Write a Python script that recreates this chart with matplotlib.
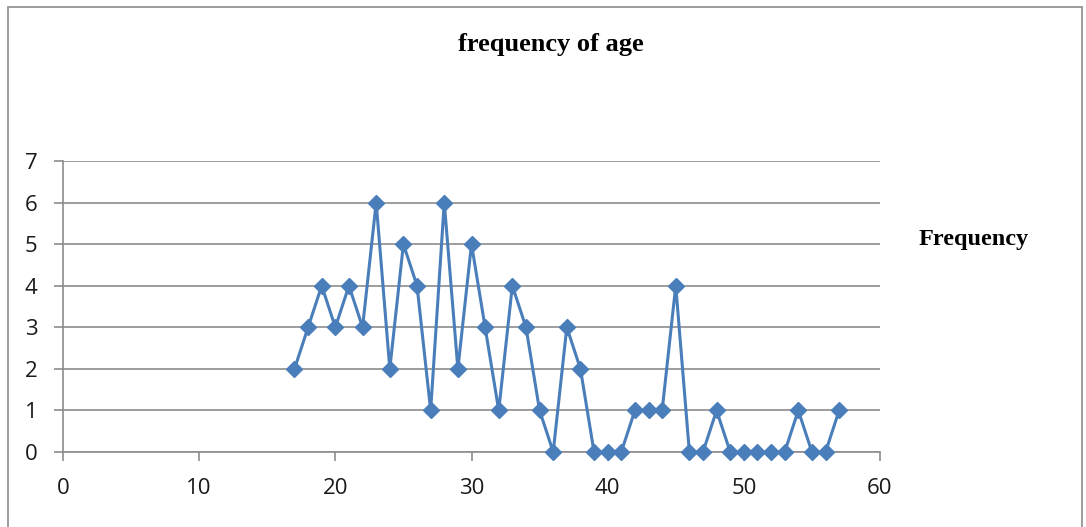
import matplotlib.pyplot as plt
from matplotlib.patches import Rectangle

ages = list(range(17, 58))
freq = [2, 3, 4, 3, 4, 3, 6, 2, 5, 4, 1, 6, 2, 5, 3, 1, 4, 3, 1, 0,
        3, 2, 0, 0, 0, 1, 1, 1, 4, 0, 0, 1, 0, 0, 0, 0, 0, 1, 0, 0, 1]
x_ticks = [0, 10, 20, 30, 40, 50, 60]
y_ticks = [0, 1, 2, 3, 4, 5, 6, 7]

fig = plt.figure(figsize=(10.86, 5.27), dpi=100)
ax = fig.add_axes([63 / 1086, 1 - 452 / 527, (880 - 63) / 1086, (452 - 161) / 527])

# outer chart border
fig.patches.append(Rectangle((8 / 1086, -0.01), (1082 - 8) / 1086, 1 - 7 / 527 + 0.01,
                             transform=fig.transFigure, fill=False,
                             edgecolor='#8c8c8c', linewidth=1.2))

ax.plot(ages, freq, color='#4a7ebb', linewidth=2.2, marker='D', markersize=8.5,
        markerfacecolor='#4a7ebb', markeredgecolor='#4a7ebb', clip_on=False, zorder=3)

ax.set_xlim(0, 60)
ax.set_ylim(0, 7)
ax.set_xticks(x_ticks)
ax.set_yticks(y_ticks)
ax.yaxis.grid(True, color='#8c8c8c', linewidth=1.2)
ax.set_axisbelow(True)

for s in ['top', 'right']:
    ax.spines[s].set_visible(False)
for s in ['left', 'bottom']:
    ax.spines[s].set_color('#8c8c8c')
    ax.spines[s].set_linewidth(1.2)

ax.tick_params(axis='both', colors='#8c8c8c', length=6.5, width=1.2,
               labelsize=16, labelcolor='#1a1a1a')
ax.tick_params(axis='x', pad=12)
ax.tick_params(axis='y', pad=12)
for lab in ax.get_xticklabels() + ax.get_yticklabels():
    lab.set_fontfamily('Open Sans')

fig.text(551 / 1086, 1 - 44 / 527, 'frequency of age', ha='center', va='center',
         fontsize=19, fontweight='bold', family='Liberation Serif')
fig.text(919 / 1086, 1 - 240 / 527, 'Frequency', ha='left', va='center',
         fontsize=17.5, fontweight='bold', family='Liberation Serif')

fig.savefig('out.png', dpi=100)
